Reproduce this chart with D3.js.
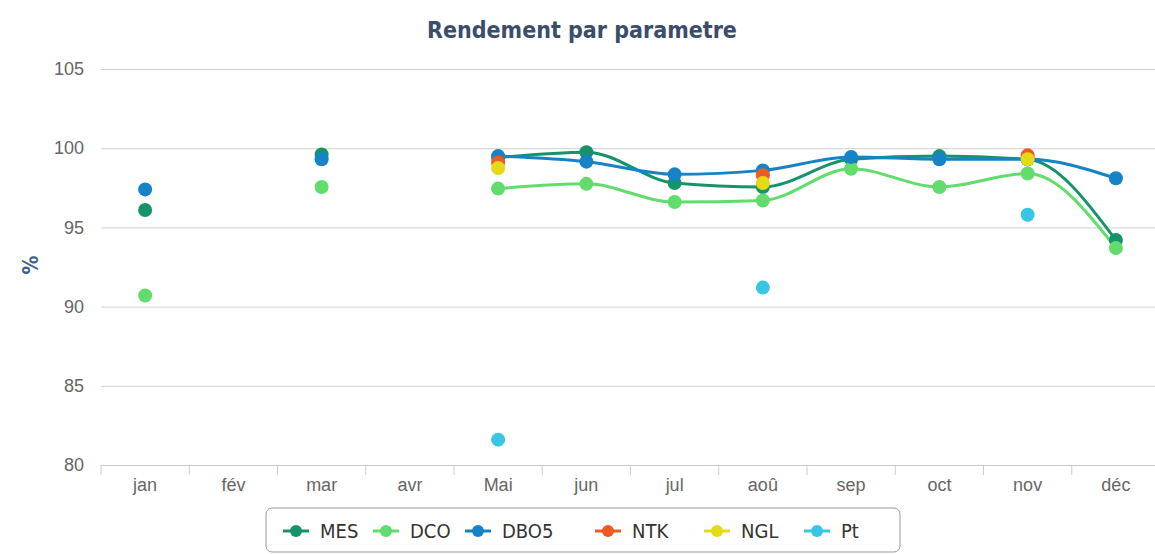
<!DOCTYPE html>
<html>
<head>
<meta charset="utf-8">
<script src="https://cdn.jsdelivr.net/npm/d3@7"></script>
<style>
  body { margin: 0; background: #fff; }
  svg { font-family: "DejaVu Sans Condensed", "DejaVu Sans", sans-serif; }
  .tick text { fill: #666; font-size: 18px; }
</style>
</head>
<body>
<svg width="1155" height="554"></svg>
<script>
var months = ["jan", "fév", "mar", "avr", "Mai", "jun", "jul", "aoû", "sep", "oct", "nov", "déc"];
var yTicks = [80, 85, 90, 95, 100, 105];

var mes  = [96.1, null, 99.6, null, 99.4, 99.75, 97.8, 97.55, 99.3, 99.5, 99.3, 94.2];
var dco  = [90.7, null, 97.55, null, 97.45, 97.75, 96.6, 96.7, 98.7, 97.55, 98.4, 93.7];
var dbo5 = [97.4, null, 99.3, null, 99.5, 99.15, 98.35, 98.6, 99.45, 99.3, 99.3, 98.1];
var ntk  = [null, null, null, null, 99.1, null, null, 98.3, null, null, 99.55, null];
var ngl  = [null, null, null, null, 98.75, null, null, 97.8, null, null, 99.3, null];
var pt   = [null, null, null, null, 81.6, null, null, 91.2, null, null, 95.8, null];

var series = [
  { name: "MES",  values: mes,  color: "#17936b" },
  { name: "DCO",  values: dco,  color: "#62dc6c" },
  { name: "DBO5", values: dbo5, color: "#1583c6" },
  { name: "NTK",  values: ntk,  color: "#ee5a24" },
  { name: "NGL",  values: ngl,  color: "#e4da16" },
  { name: "Pt",   values: pt,   color: "#38c6e4" }
];

var svg = d3.select("svg");
var plotLeft = 101, plotRight = 1160, plotTop = 69, plotBottom = 465;

var x = d3.scaleBand().domain(months).range([plotLeft, plotRight]);
var y = d3.scaleLinear().domain([80, 105]).range([plotBottom, plotTop]);

// title
svg.append("text")
  .attr("x", 582).attr("y", 38)
  .attr("text-anchor", "middle")
  .attr("font-size", 23).attr("font-weight", "bold")
  .attr("fill", "#3a4d6a")
  .text("Rendement par parametre");

// y axis label
svg.append("text")
  .attr("transform", "translate(38,265) rotate(-90)")
  .attr("text-anchor", "middle")
  .attr("font-size", 21).attr("font-weight", "bold")
  .attr("fill", "#3d5f8c")
  .text("%");

// gridlines + y labels
var yAxis = svg.append("g")
  .attr("transform", "translate(" + plotLeft + ",0)")
  .call(d3.axisLeft(y).tickValues(yTicks).tickSize(-(plotRight - plotLeft)).tickPadding(17));
yAxis.select(".domain").remove();
yAxis.selectAll(".tick line").attr("stroke", "#d0d0d0");

// x axis
var xAxis = svg.append("g")
  .attr("transform", "translate(0," + plotBottom + ")")
  .call(d3.axisBottom(x).tickSize(0).tickPadding(11));
xAxis.select(".domain").attr("stroke", "#c8ccd4");
xAxis.selectAll(".tick text").attr("dy", "0.85em");
// tick marks at band boundaries
var bounds = months.map(function (m) { return x(m); });
xAxis.selectAll(".bnd").data(bounds).enter().append("line")
  .attr("x1", function (d) { return d; }).attr("x2", function (d) { return d; })
  .attr("y1", 0).attr("y2", 10)
  .attr("stroke", "#c8ccd4");

var cx = function (i) { return x(months[i]) + x.bandwidth() / 2; };

var line = d3.line()
  .defined(function (d) { return d != null; })
  .x(function (d, i) { return cx(i); })
  .y(function (d) { return y(d); })
  .curve(d3.curveMonotoneX);

series.forEach(function (s) {
  svg.append("path")
    .attr("d", line(s.values))
    .attr("fill", "none")
    .attr("stroke", s.color)
    .attr("stroke-width", 3);
});

series.forEach(function (s) {
  svg.append("g").selectAll("circle")
    .data(s.values.map(function (v, i) { return { v: v, i: i }; }).filter(function (d) { return d.v != null; }))
    .enter().append("circle")
    .attr("cx", function (d) { return cx(d.i); })
    .attr("cy", function (d) { return y(d.v); })
    .attr("r", 7)
    .attr("fill", s.color);
});

// legend
var legend = svg.append("g");
legend.append("rect")
  .attr("x", 266).attr("y", 508).attr("width", 634).attr("height", 44)
  .attr("rx", 6)
  .attr("fill", "#fff").attr("stroke", "#999").attr("stroke-width", 1);
var legX = [283, 373, 465, 595, 704, 804];
series.forEach(function (s, i) {
  var g = legend.append("g").attr("transform", "translate(" + legX[i] + ",531)");
  g.append("line").attr("x1", 0).attr("x2", 26).attr("stroke", s.color).attr("stroke-width", 3);
  g.append("circle").attr("cx", 13).attr("r", 6).attr("fill", s.color);
  g.append("text").attr("x", 37).attr("y", 7)
    .attr("font-size", 20).attr("fill", "#333")
    .text(s.name);
});
</script>
</body>
</html>
